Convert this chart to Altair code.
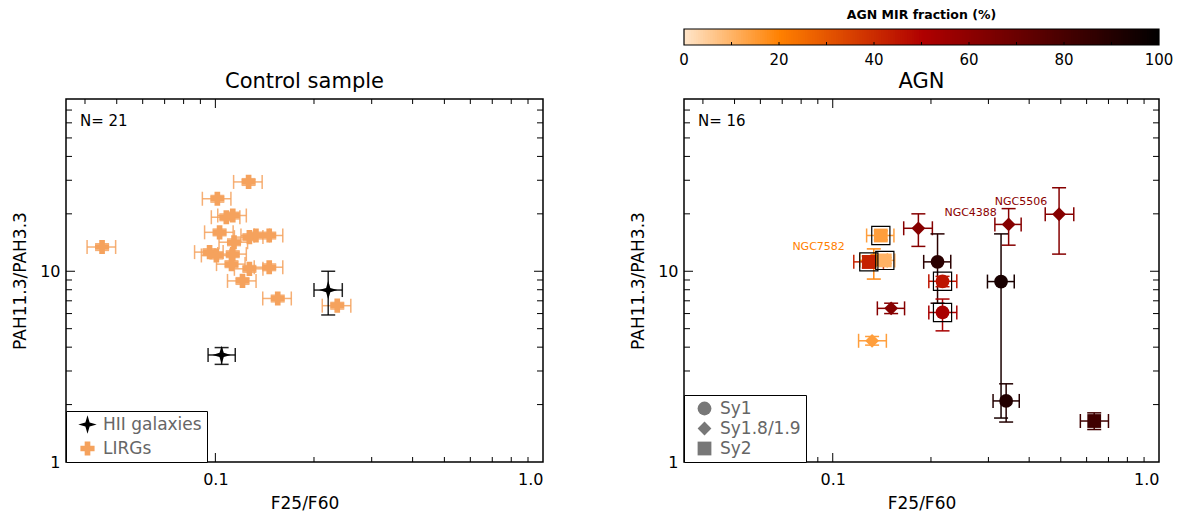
import altair as alt
import pandas as pd

FONT = "DejaVu Sans"

# ---------------- Control sample (left panel) ----------------
lirg_x = [0.0451, 0.1263, 0.1014, 0.108, 0.113, 0.103, 0.114, 0.127, 0.133, 0.146,
          0.096, 0.1007, 0.113, 0.112, 0.127, 0.146, 0.121, 0.155, 0.2355]
lirg_y = [13.4, 29.4, 24.0, 19.2, 19.6, 16.0, 14.2, 15.1, 15.4, 15.4,
          12.6, 12.1, 12.3, 10.9, 10.3, 10.5, 8.9, 7.2, 6.6]
lirg_xerr = [0.10, 0.10, 0.10, 0.10, 0.10, 0.10, 0.10, 0.10, 0.10, 0.10,
             0.10, 0.10, 0.10, 0.10, 0.10, 0.10, 0.10, 0.10, 0.10]
lirg_yerr = [0.04, 0.04, 0.04, 0.04, 0.04, 0.04, 0.04, 0.04, 0.04, 0.04,
             0.04, 0.04, 0.04, 0.04, 0.04, 0.04, 0.04, 0.04, 0.04]

hii_x = [0.221, 0.1045]
hii_y = [7.97, 3.64]
hii_xlo = [0.200, 0.095]
hii_xhi = [0.244, 0.115]
hii_ylo = [5.9, 3.25]
hii_yhi = [10.0, 3.98]

control_types = ["HII galaxies", "LIRGs"]
control_colors = ["black", "#f5a25d"]
star_path = "M0,-1.3L0.3,-0.3L1.3,0L0.3,0.3L0,1.3L-0.3,0.3L-1.3,0L-0.3,-0.3Z"
control_shapes = [star_path, "cross"]
control_title = ["Control sample"]
control_note = ["N= 21"]

# ---------------- AGN (right panel) ----------------
agn_x = [0.1404, 0.1336, 0.129, 0.1444, 0.183, 0.2095, 0.217, 0.217, 0.151, 0.132,
         0.346, 0.494, 0.328, 0.34, 0.633]
agn_y = [15.4, 11.4, 11.2, 11.4, 16.8, 11.2, 8.86, 6.08, 6.39, 4.32,
         17.6, 19.9, 8.83, 2.09, 1.64]
agn_xlo = [0.127, 0.121, 0.116, 0.136, 0.165, 0.19, 0.197, 0.197, 0.137, 0.12,
           0.314, 0.448, 0.298, 0.31, 0.574]
agn_xhi = [0.154, 0.147, 0.143, 0.155, 0.202, 0.23, 0.24, 0.24, 0.166, 0.146,
           0.378, 0.548, 0.36, 0.373, 0.70]
agn_ylo = [14.6, 9.1, 10.4, 11.0, 13.5, 6.8, 8.3, 4.87, 6.0, 4.1,
           13.7, 12.3, 1.7, 1.62, 1.48]
agn_yhi = [16.3, 13.1, 12.0, 11.8, 20.0, 15.7, 9.4, 7.15, 6.8, 4.55,
           21.3, 27.4, 15.7, 2.57, 1.81]
agn_type = ["Sy2", "Sy1", "Sy2", "Sy2", "Sy1.8/1.9", "Sy1", "Sy1", "Sy1", "Sy1.8/1.9", "Sy1.8/1.9",
            "Sy1.8/1.9", "Sy1.8/1.9", "Sy1", "Sy1", "Sy2"]
agn_frac = [14, 18, 42, 10, 62, 88, 45, 52, 62, 14, 62, 62, 93, 90, 82]
agn_boxed = [True, False, True, True, False, False, True, True, False, False,
             False, False, False, False, False]
agn_names = ["", "", "NGC7582", "", "", "", "", "", "", "", "NGC4388", "NGC5506", "", "", ""]

agn_types = ["Sy1", "Sy1.8/1.9", "Sy2"]
agn_shapes = ["circle", "diamond", "square"]
frac_stops = [0, 20, 50, 100]
frac_colors = ["#ffe4c8", "#ff8000", "#b00000", "#000000"]
frac_ticks = [0, 20, 40, 60, 80, 100]
frac_minor = [10, 20, 30, 40, 50, 60, 70, 80, 90]
cbar_title = ["AGN MIR fraction (%)"]
agn_title = ["AGN"]
agn_note = ["N= 16"]

x_minor = [0.04, 0.05, 0.06, 0.07, 0.08, 0.09, 0.2, 0.3, 0.4, 0.5, 0.6, 0.7, 0.8, 0.9]
x_major = [0.1]
y_minor = [2, 3, 4, 5, 6, 7, 8, 9, 20, 30, 40, 50, 60, 70]
y_major = [10]

W_L, W_R, H = 477, 475, 363
CAP_V = "M0,-1L0,1"   # vertical cap segment
CAP_H = "M-1,0L1,0"   # horizontal cap segment

XS = alt.Scale(type="log", domain=[0.035, 1.0], nice=False)
YS = alt.Scale(type="log", domain=[1, 80], nice=False)
XAX = alt.Axis(values=[0.1, 1.0], format=".1f", title="F25/F60", ticks=False, domain=False,
               grid=False, labelPadding=9, titlePadding=8)
YAX = alt.Axis(values=[1, 10], format="d", title="PAH11.3/PAH3.3", ticks=False, domain=False,
               grid=False, labelPadding=6, titlePadding=10)


def X(field):
    return alt.X(field, type="quantitative", scale=XS, axis=XAX)


def Y(field):
    return alt.Y(field, type="quantitative", scale=YS, axis=YAX)


def frame(W):
    xm = pd.DataFrame({"v": x_minor})
    xM = pd.DataFrame({"v": x_major})
    ym = pd.DataFrame({"v": y_minor})
    yM = pd.DataFrame({"v": y_major})
    r = dict(color="black", strokeWidth=1)
    return [
        alt.Chart(xm).mark_rule(**r).encode(x=X("v"), y=alt.value(H), y2=alt.value(H - 5)),
        alt.Chart(xm).mark_rule(**r).encode(x=X("v"), y=alt.value(0), y2=alt.value(5)),
        alt.Chart(xM).mark_rule(**r).encode(x=X("v"), y=alt.value(H), y2=alt.value(H - 9)),
        alt.Chart(xM).mark_rule(**r).encode(x=X("v"), y=alt.value(0), y2=alt.value(9)),
        alt.Chart(ym).mark_rule(**r).encode(y=Y("v"), x=alt.value(0), x2=alt.value(6)),
        alt.Chart(ym).mark_rule(**r).encode(y=Y("v"), x=alt.value(W), x2=alt.value(W - 6)),
        alt.Chart(yM).mark_rule(**r).encode(y=Y("v"), x=alt.value(0), x2=alt.value(9)),
        alt.Chart(yM).mark_rule(**r).encode(y=Y("v"), x=alt.value(W), x2=alt.value(W - 9)),
    ]


def texts(W, title, note):
    return [
        alt.Chart(pd.DataFrame({"t": title})).mark_text(
            align="center", baseline="middle", fontSize=21, font=FONT, color="black").encode(
            text="t:N", x=alt.value(W / 2), y=alt.value(-17)),
        alt.Chart(pd.DataFrame({"t": note})).mark_text(
            align="left", baseline="middle", fontSize=15, font=FONT, color="black").encode(
            text="t:N", x=alt.value(14), y=alt.value(22)),
    ]


def error_layers(base, color, opacity=1.0):
    cap = dict(filled=False, size=196, strokeWidth=1.5, opacity=opacity)
    return [
        base.mark_rule(strokeWidth=1.5, opacity=opacity).encode(x=X("xlo"), x2="xhi", y=Y("y"), color=color),
        base.mark_rule(strokeWidth=1.5, opacity=opacity).encode(x=X("x"), y=Y("ylo"), y2="yhi", color=color),
        base.mark_point(shape=CAP_V, **cap).encode(x=X("xlo"), y=Y("y"), color=color),
        base.mark_point(shape=CAP_V, **cap).encode(x=X("xhi"), y=Y("y"), color=color),
        base.mark_point(shape=CAP_H, **cap).encode(x=X("x"), y=Y("ylo"), color=color),
        base.mark_point(shape=CAP_H, **cap).encode(x=X("x"), y=Y("yhi"), color=color),
    ]


# ---- left data ----
rows = []
for i in range(len(lirg_x)):
    rows.append(dict(x=lirg_x[i], y=lirg_y[i],
                     xlo=lirg_x[i] * (1 - lirg_xerr[i]), xhi=lirg_x[i] * (1 + lirg_xerr[i]),
                     ylo=lirg_y[i] * (1 - lirg_yerr[i]), yhi=lirg_y[i] * (1 + lirg_yerr[i]),
                     type="LIRGs"))
for i in range(len(hii_x)):
    rows.append(dict(x=hii_x[i], y=hii_y[i], xlo=hii_xlo[i], xhi=hii_xhi[i],
                     ylo=hii_ylo[i], yhi=hii_yhi[i], type="HII galaxies"))
cdf = pd.DataFrame(rows)

cc = alt.Scale(domain=control_types, range=control_colors)
cs = alt.Scale(domain=control_types, range=control_shapes)
CLEG = alt.Legend(title=None, orient="bottom-left", offset=0, strokeColor="black", fillColor="white",
                  padding=5, labelColor="#666666", labelFontSize=17, symbolSize=200, rowPadding=5,
                  labelFont=FONT, symbolStrokeWidth=0, symbolOpacity=1, symbolOffset=8, labelOffset=7)
c_col = alt.Color("type:N", scale=cc, legend=CLEG)

cbase = alt.Chart(cdf)
c_layers = frame(W_L) + error_layers(cbase, c_col, 0.85) + [
    cbase.mark_point(filled=True, opacity=1, size=200).encode(
        x=X("x"), y=Y("y"),
        color=c_col,
        shape=alt.Shape("type:N", scale=cs, legend=CLEG),
        order=alt.Order("type:N", sort="descending"),
    ),
] + texts(W_L, control_title, control_note)
left = alt.layer(*c_layers).properties(width=W_L, height=H)

# ---- right data ----
adf = pd.DataFrame(dict(x=agn_x, y=agn_y, xlo=agn_xlo, xhi=agn_xhi, ylo=agn_ylo, yhi=agn_yhi,
                        type=agn_type, frac=agn_frac, boxed=agn_boxed, name=agn_names))
adf["ord"] = range(len(adf))
fs = alt.Scale(domain=frac_stops, range=frac_colors, interpolate="rgb")
f_col = alt.Color("frac:Q", scale=fs, legend=None)

abase = alt.Chart(adf)
a_main = frame(W_R) + error_layers(abase, f_col) + [
    abase.mark_point(filled=True, opacity=1, size=190).encode(
        x=X("x"), y=Y("y"), color=f_col,
        shape=alt.Shape("type:N", scale=alt.Scale(domain=agn_types, range=agn_shapes), legend=alt.Legend(
            title=None, orient="bottom-left", offset=0, strokeColor="black", fillColor="white",
            padding=5, labelColor="#666666", labelFontSize=17, symbolSize=190, rowPadding=2,
            symbolFillColor="#777777", symbolStrokeColor="#777777", symbolStrokeWidth=0, labelFont=FONT,
            symbolOffset=7, labelOffset=7)),
        order="ord:Q",
    ),
    abase.transform_filter("datum.boxed").mark_point(shape="square", filled=False, size=330,
                                                     color="black", strokeWidth=1.2, opacity=1).encode(
        x=X("x"), y=Y("y")),
    abase.transform_filter("datum.name == 'NGC7582'").mark_text(
        align="right", baseline="middle", dx=-24, dy=-15, fontSize=11, font=FONT, color="#ff7f00").encode(
        x=X("x"), y=Y("y"), text="name:N"),
    abase.transform_filter("datum.name == 'NGC4388'").mark_text(
        align="center", baseline="middle", dx=-38, dy=-11, fontSize=11, font=FONT, color="#8b0000").encode(
        x=X("x"), y=Y("y"), text="name:N"),
    abase.transform_filter("datum.name == 'NGC5506'").mark_text(
        align="center", baseline="middle", dx=-38, dy=-12, fontSize=11, font=FONT, color="#8b0000").encode(
        x=X("x"), y=Y("y"), text="name:N"),
] + texts(W_R, agn_title, agn_note)

# ---- colour bar (its own linear x scale, drawn above the AGN panel) ----
CBS = alt.Scale(type="linear", domain=[0, 100], nice=False, zero=False)
CB_TOP, CB_BOT = -70, -54
cbar_df = pd.DataFrame({"c": [frac_stops[0] + k * 0.5 for k in range(200)]})
cb_layers = [
    alt.Chart(cbar_df).transform_calculate(c2="min(datum.c + 1.0, 100)").mark_rect(
        strokeWidth=0, opacity=1).encode(
        x=alt.X("c:Q", scale=CBS, axis=None), x2="c2:Q",
        y=alt.value(CB_TOP), y2=alt.value(CB_BOT),
        color=alt.Color("c:Q", scale=fs, legend=None)),
    alt.Chart(pd.DataFrame({"v": frac_minor})).mark_rule(color="black", strokeWidth=1).encode(
        x=alt.X("v:Q", scale=CBS, axis=None), y=alt.value(CB_BOT), y2=alt.value(CB_BOT - 3)),
    alt.Chart(pd.DataFrame({"v": frac_ticks})).mark_text(
        baseline="middle", align="center", fontSize=15, font=FONT, color="black").encode(
        x=alt.X("v:Q", scale=CBS, axis=None), y=alt.value(-39), text=alt.Text("v:Q", format="d")),
    alt.Chart(pd.DataFrame({"t": cbar_title})).mark_text(
        baseline="middle", align="center", fontSize=12.5, fontWeight="bold", font=FONT, color="black").encode(
        x=alt.value(W_R / 2), y=alt.value(-84), text="t:N"),
    alt.Chart(pd.DataFrame({"t": cbar_title})).mark_rect(fill=None, stroke="black", strokeWidth=1.2).encode(
        x=alt.value(0), x2=alt.value(W_R), y=alt.value(CB_TOP), y2=alt.value(CB_BOT)),
]

right = alt.layer(alt.layer(*a_main), alt.layer(*cb_layers)).resolve_scale(x="independent").properties(
    width=W_R, height=H)

chart = alt.hconcat(left, right, spacing=141, bounds="flush").resolve_scale(
    color="independent", shape="independent", x="independent", y="independent"
).resolve_legend(color="independent", shape="independent").configure_view(
    stroke="black", strokeWidth=1.5
).configure_axis(
    labelFont=FONT, titleFont=FONT, labelFontSize=16, titleFontSize=17, titleFontWeight="normal",
    labelColor="black", titleColor="black"
).properties(
    padding={"left": 10, "top": 8, "right": 5, "bottom": 5}, background="white"
)

chart.save("out.html", embed_options={"renderer": "svg", "actions": False})
